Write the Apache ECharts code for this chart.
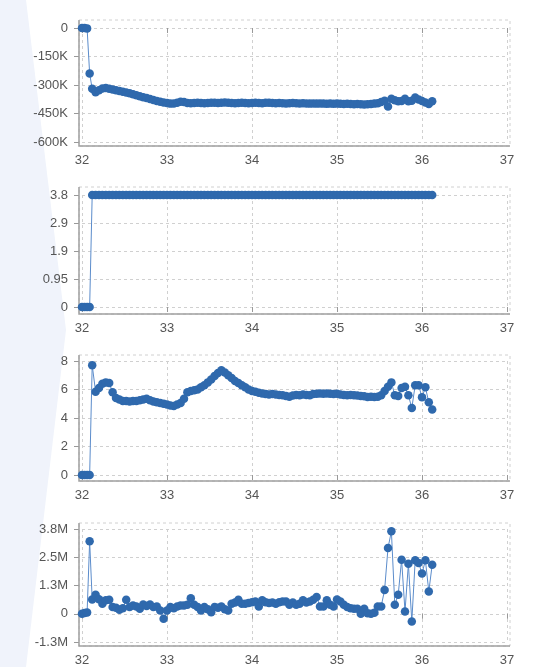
<!DOCTYPE html>
<html lang="en">
<head>
    <meta charset="utf-8">
    <title>Multi panel</title>
    <script src="https://cdn.jsdelivr.net/npm/echarts@6.0.0/dist/echarts.min.js"></script>
</head>
<body style="margin:0; background:#fff;">
<div id="main" style="width: 550px; height: 667px;"></div>

<script type="text/javascript">
    // shared x values
    const xVals = [32.00, 32.03, 32.06, 32.09, 32.12,
        32.16, 32.20, 32.24, 32.28, 32.32, 32.36, 32.40, 32.44, 32.48, 32.52,
        32.56, 32.60, 32.64, 32.68, 32.72, 32.76, 32.80, 32.84, 32.88, 32.92,
        32.96, 33.00, 33.04, 33.08, 33.12, 33.16, 33.20, 33.24, 33.28, 33.32,
        33.36, 33.40, 33.44, 33.48, 33.52, 33.56, 33.60, 33.64, 33.68, 33.72,
        33.76, 33.80, 33.84, 33.88, 33.92, 33.96, 34.00, 34.04, 34.08, 34.12,
        34.16, 34.20, 34.24, 34.28, 34.32, 34.36, 34.40, 34.44, 34.48, 34.52,
        34.56, 34.60, 34.64, 34.68, 34.72, 34.76, 34.80, 34.84, 34.88, 34.92,
        34.96, 35.00, 35.04, 35.08, 35.12, 35.16, 35.20, 35.24, 35.28, 35.32,
        35.36, 35.40, 35.44, 35.48, 35.52, 35.56, 35.60, 35.64, 35.68, 35.72,
        35.76, 35.80, 35.84, 35.88, 35.92, 35.96, 36.00, 36.04, 36.08, 36.12];

    const panel1 = [0, 0, -2000, -240000, -320000,
        -338000, -328000, -318000, -316000, -320000, -324000, -328000, -332000, -336000, -340000,
        -344000, -349000, -354000, -359000, -364000, -369000, -374000, -379000, -384000, -388000,
        -392000, -395000, -398000, -397000, -393000, -388000, -390000, -395000, -396000, -395000,
        -394000, -395000, -396000, -395000, -394000, -394000, -395000, -393000, -392000, -394000,
        -395000, -396000, -395000, -394000, -395000, -396000, -395000, -394000, -395000, -396000,
        -394000, -393000, -395000, -396000, -395000, -396000, -397000, -396000, -395000, -396000,
        -397000, -396000, -397000, -398000, -397000, -398000, -397000, -398000, -399000, -398000,
        -399000, -398000, -399000, -400000, -399000, -400000, -401000, -400000, -401000, -402000,
        -401000, -400000, -398000, -396000, -390000, -383000, -413000, -372000, -380000, -386000,
        -384000, -372000, -386000, -383000, -366000, -376000, -384000, -392000, -400000, -386000];

    const panel2 = [0, 0, 0, 0, 3.8,
        3.8, 3.8, 3.8, 3.8, 3.8, 3.8, 3.8, 3.8, 3.8, 3.8,
        3.8, 3.8, 3.8, 3.8, 3.8, 3.8, 3.8, 3.8, 3.8, 3.8,
        3.8, 3.8, 3.8, 3.8, 3.8, 3.8, 3.8, 3.8, 3.8, 3.8,
        3.8, 3.8, 3.8, 3.8, 3.8, 3.8, 3.8, 3.8, 3.8, 3.8,
        3.8, 3.8, 3.8, 3.8, 3.8, 3.8, 3.8, 3.8, 3.8, 3.8,
        3.8, 3.8, 3.8, 3.8, 3.8, 3.8, 3.8, 3.8, 3.8, 3.8,
        3.8, 3.8, 3.8, 3.8, 3.8, 3.8, 3.8, 3.8, 3.8, 3.8,
        3.8, 3.8, 3.8, 3.8, 3.8, 3.8, 3.8, 3.8, 3.8, 3.8,
        3.8, 3.8, 3.8, 3.8, 3.8, 3.8, 3.8, 3.8, 3.8, 3.8,
        3.8, 3.8, 3.8, 3.8, 3.8, 3.8, 3.8, 3.8, 3.8, 3.8];

    const panel3 = [0, 0, 0, 0, 7.7,
        5.85, 6.1, 6.4, 6.5, 6.45, 5.8, 5.4, 5.3, 5.2, 5.2,
        5.15, 5.2, 5.2, 5.25, 5.3, 5.35, 5.25, 5.15, 5.1, 5.05,
        5.0, 4.95, 4.88, 4.85, 4.95, 5.05, 5.35, 5.8, 5.9, 5.95,
        6.0, 6.15, 6.3, 6.5, 6.7, 6.95, 7.15, 7.35, 7.2, 7.0,
        6.8, 6.6, 6.45, 6.3, 6.15, 6.0, 5.9, 5.85, 5.78, 5.72,
        5.68, 5.65, 5.68, 5.65, 5.62, 5.6, 5.55, 5.5, 5.58, 5.62,
        5.6, 5.65, 5.62, 5.6, 5.68, 5.7, 5.72, 5.7, 5.72, 5.7,
        5.68, 5.7, 5.65, 5.62, 5.6, 5.62, 5.6, 5.58, 5.55, 5.52,
        5.48, 5.5, 5.48, 5.5, 5.6, 5.9, 6.2, 6.5, 5.6, 5.55,
        6.1, 6.2, 5.6, 4.7, 6.3, 6.3, 5.45, 6.15, 5.1, 4.6];

    const panel4 = [0, 30000, 60000, 3250000, 640000,
        850000, 650000, 450000, 600000, 630000, 300000, 270000, 180000, 250000, 630000,
        300000, 370000, 330000, 220000, 420000, 350000, 420000, 300000, 330000, 150000,
        -220000, 150000, 300000, 250000, 330000, 370000, 370000, 400000, 700000, 400000,
        300000, 150000, 300000, 200000, 70000, 300000, 270000, 330000, 200000, 150000,
        450000, 500000, 630000, 450000, 450000, 480000, 520000, 550000, 330000, 600000,
        520000, 480000, 500000, 450000, 520000, 550000, 550000, 400000, 500000, 400000,
        450000, 600000, 500000, 550000, 630000, 750000, 330000, 330000, 600000, 400000,
        330000, 640000, 550000, 400000, 300000, 250000, 220000, 220000, 0, 220000,
        20000, 0, 50000, 330000, 330000, 1070000, 2950000, 3700000, 400000, 850000,
        2420000, 100000, 2240000, -350000, 2400000, 2280000, 1800000, 2400000, 1000000, 2200000];

    // tick labels per panel
    const ticks1 = ['-600K', '-450K', '-300K', '-150K', '0'];
    const ticks2 = ['0', '0.95', '1.9', '2.9', '3.8'];
    const ticks3 = ['0', '2', '4', '6', '8'];
    const ticks4 = ['-1.3M', '0', '1.3M', '2.5M', '3.8M'];

    const xMin = 32, xMax = 37;
    const gLeft = 82, gWidth = 425;
    const step4 = 3800000 / 3;
    const panels = [
        {top: 28, height: 114, padT: 8, padB: 4, min: -600000, interval: 150000, ticks: ticks1, data: panel1},
        {top: 195, height: 112, padT: 8, padB: 7, min: 0, interval: 0.95, ticks: ticks2, data: panel2},
        {top: 361, height: 114, padT: 6, padB: 6, min: 0, interval: 2, ticks: ticks3, data: panel3},
        {top: 529, height: 113, padT: 6, padB: 4, min: -step4, interval: step4, ticks: ticks4, data: panel4}
    ];

    const myChart = echarts.init(document.getElementById('main'));
    const labelStyle = {color: '#555', fontSize: 13, fontFamily: 'Liberation Sans, Arial, sans-serif'};
    const dash = {color: '#d0d0d0', type: [3, 3], width: 1};

    const grid = [], xAxis = [], yAxis = [], series = [];
    const graphic = [{
        type: 'polygon', silent: true, z: -10,
        shape: {points: [[0, 0], [26, 0], [66, 330], [26, 667], [0, 667]]},
        style: {fill: '#f0f3fb'}
    }];

    panels.forEach(function (p, i) {
        grid.push({left: gLeft, top: p.top, width: gWidth, height: p.height});
        xAxis.push({
            type: 'value', gridIndex: i, min: xMin, max: xMax, interval: 1,
            offset: p.padB,
            axisLine: {show: false},
            axisTick: {show: true, length: 5, lineStyle: {color: '#999'}},
            axisLabel: Object.assign({margin: 8}, labelStyle),
            splitLine: {show: true, lineStyle: dash}
        });
        yAxis.push({
            type: 'value', gridIndex: i, min: p.min, max: p.min + 4 * p.interval, interval: p.interval,
            offset: 3,
            axisLine: {show: false},
            axisTick: {show: true, length: 5, lineStyle: {color: '#999'}},
            axisLabel: Object.assign({
                margin: 11,
                formatter: function (v) {
                    return p.ticks[Math.round((v - p.min) / p.interval)];
                }
            }, labelStyle),
            splitLine: {show: true, lineStyle: dash}
        });
        series.push({
            type: 'line', xAxisIndex: i, yAxisIndex: i,
            data: xVals.map(function (x, j) { return [x, p.data[j]]; }),
            symbol: 'circle', symbolSize: 8.5, showAllSymbol: true,
            itemStyle: {color: '#2f69ad'},
            lineStyle: {color: '#5b8ccb', width: 1},
            animation: false
        });
        // dashed frame and axis lines
        const fx = gLeft - 3, fy = p.top - p.padT;
        const fw = gWidth + 6, fh = p.height + p.padT + p.padB;
        graphic.push({
            type: 'rect', silent: true, z: 0,
            shape: {x: fx, y: fy, width: fw, height: fh},
            style: {fill: 'none', stroke: '#d0d0d0', lineDash: [3, 3], lineWidth: 1}
        });
        graphic.push({
            type: 'polyline', silent: true, z: 1,
            shape: {points: [[fx, fy], [fx, fy + fh], [fx + fw, fy + fh]]},
            style: {fill: 'none', stroke: '#a0a0a0', lineWidth: 1.5}
        });
    });

    myChart.setOption({
        animation: false,
        grid: grid,
        xAxis: xAxis,
        yAxis: yAxis,
        series: series,
        graphic: graphic
    });
</script>
</body>
</html>
